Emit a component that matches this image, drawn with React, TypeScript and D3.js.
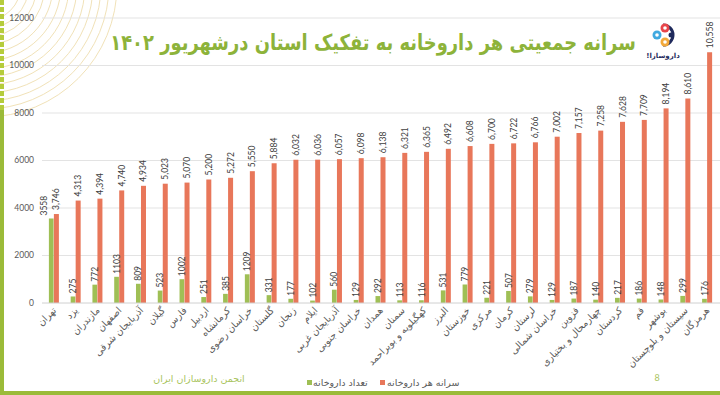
import * as d3 from "d3";

// provinces, ordered as in the chart
const provinces = [
  "تهران", "یزد", "مازندران", "اصفهان", "آذربایجان شرقی", "گیلان", "فارس", "اردبیل",
  "کرمانشاه", "خراسان رضوی", "گلستان", "زنجان", "ایلام", "آذربایجان غربی", "خراسان جنوبی",
  "همدان", "سمنان", "کهگیلویه و بویراحمد", "البرز", "خوزستان", "مرکزی", "کرمان", "لرستان",
  "خراسان شمالی", "قزوین", "چهارمحال و بختیاری", "کردستان", "قم", "بوشهر",
  "سیستان و بلوچستان", "هرمزگان",
];
const pharmacyCount = [
  3558, 275, 772, 1103, 809, 523, 1002, 251, 385, 1209, 331, 177, 102, 560, 129,
  292, 113, 116, 531, 779, 221, 507, 279, 129, 187, 140, 217, 186, 148, 299, 176,
];
const perPharmacy = [
  3746, 4313, 4394, 4740, 4934, 5023, 5070, 5200, 5272, 5550, 5884, 6032, 6036, 6057, 6098,
  6138, 6321, 6365, 6492, 6608, 6700, 6722, 6766, 7002, 7157, 7258, 7628, 7709, 8194,
  8610, 10558,
];
const yTicks = [0, 2000, 4000, 6000, 8000, 10000, 12000];
const seriesNames = ["تعداد داروخانه", "سرانه هر داروخانه"];

const title = "سرانه جمعیتی هر داروخانه به تفکیک استان درشهریور ۱۴۰۲";
const footer = "انجمن داروسازان ایران";

const W = 720;
const H = 395;
const green = "#9fbf55";
const orange = "#e8775a";
const titleGreen = "#8db33a";
const textGray = "#595959";
const fa = "'DejaVu Sans', sans-serif";
const num = "Lato, 'Open Sans', sans-serif";

export default function App() {
  const x = d3.scaleBand().domain(provinces).range([43, 718]);
  const y = d3.scaleLinear().domain([0, 12000]).range([303, 18]);
  const barW = 5;
  const fmt = d3.format(",");

  const arcs = d3.range(36, 140, 8);

  return (
    <svg width={W} height={H} style={{ position: "absolute", left: 0, top: 0, background: "#fff" }}>
      {/* decoration in the corner */}
      {arcs.map((r) => (
        <circle key={r} cx={-15} cy={-15} r={r} fill="none" stroke="#f1e2b8" strokeWidth={1} />
      ))}

      {/* grid */}
      {yTicks.map((t) => (
        <g key={t}>
          {t > 0 && <line x1={42} x2={W} y1={y(t)} y2={y(t)} stroke="#e3e3e3" strokeWidth={1} />}
          <text x={34} y={y(t)} dy="0.35em" textAnchor="end" fontSize={8.5} fill={textGray} fontFamily={num}>
            {t}
          </text>
        </g>
      ))}

      {/* bars */}
      {provinces.map((p, i) => {
        const cx = x(p)! + x.bandwidth() / 2;
        const gx = cx - barW;
        const ox = cx;
        const gLabelX = i === 0 ? gx - 2 : gx + barW / 2 + 3;
        return (
          <g key={p}>
            <rect x={gx} y={y(pharmacyCount[i])} width={barW - 0.3} height={y(0) - y(pharmacyCount[i])} fill={green} />
            <rect x={ox} y={y(perPharmacy[i])} width={barW} height={y(0) - y(perPharmacy[i])} fill={orange} />
            <text
              transform={`translate(${gLabelX},${y(pharmacyCount[i]) - 3}) rotate(-90)`}
              fontSize={8.5} fill="#404040" fontFamily={num}
            >
              {pharmacyCount[i]}
            </text>
            <text
              transform={`translate(${ox + barW / 2 + 3},${y(perPharmacy[i]) - 4}) rotate(-90)`}
              fontSize={8.5} fill="#404040" fontFamily={num}
            >
              {fmt(perPharmacy[i])}
            </text>
            <text
              transform={`translate(${cx + 3},${311}) rotate(-45)`}
              textAnchor="end" fontSize={9.5} fill={textGray} fontFamily={fa}
            >
              {p}
            </text>
          </g>
        );
      })}
      <line x1={42} x2={W} y1={y(0)} y2={y(0)} stroke="#d0d0d0" strokeWidth={1} />

      {/* title, stretched a little vertically */}
      <text
        transform="translate(373,50) scale(1,1.22)"
        textAnchor="middle" fontSize={17.9} fontWeight="bold" fill={titleGreen} fontFamily={fa}
      >
        {title}
      </text>

      {/* logo */}
      <g>
        <path d="M663,25 A10,10 0 1 1 663,45" fill="none" stroke="#1f2a5c" strokeWidth={3} />
        <circle cx={657} cy={35} r={4.5} fill="#3fa9e0" />
        <circle cx={657} cy={35} r={1.8} fill="#fff" />
        <circle cx={665} cy={28} r={4.5} fill="#e8454a" />
        <circle cx={665} cy={28} r={1.8} fill="#fff" />
        <circle cx={665} cy={42} r={4.5} fill="#f2a93b" />
        <circle cx={665} cy={42} r={1.8} fill="#fff" />
        <circle cx={671} cy={35} r={2.5} fill="#1f2a5c" />
        <text x={663} y={58} textAnchor="middle" direction="rtl" fontSize={7} fontWeight="bold" fill="#1f2a5c" fontFamily={fa}>
          داروسازا!
        </text>
      </g>

      {/* legend */}
      <rect x={307} y={380} width={5} height={5} fill={green} />
      <text x={313} y={386} fontSize={9.5} fill={textGray} fontFamily={fa}>{seriesNames[0]}</text>
      <rect x={380} y={380} width={5} height={5} fill={orange} />
      <text x={387} y={386} fontSize={9.5} fill={textGray} fontFamily={fa}>{seriesNames[1]}</text>

      {/* footer */}
      <text x={199} y={382} textAnchor="middle" fontSize={9.5} fill="#a9c45e" fontFamily={fa}>{footer}</text>
      <text x={657} y={381} textAnchor="middle" fontSize={9} fill="#a9c45e" fontFamily={num}>8</text>

      {/* frame */}
      <rect x={0} y={391} width={W} height={4} fill="#9bbb39" />
      <rect x={0} y={110} width={4} height={285} fill="#9bbb39" />
      {d3.range(0, 110, 7).map((v) => (
        <rect key={v} x={0} y={v} width={4} height={5} fill="#b5cc3c" />
      ))}
    </svg>
  );
}
